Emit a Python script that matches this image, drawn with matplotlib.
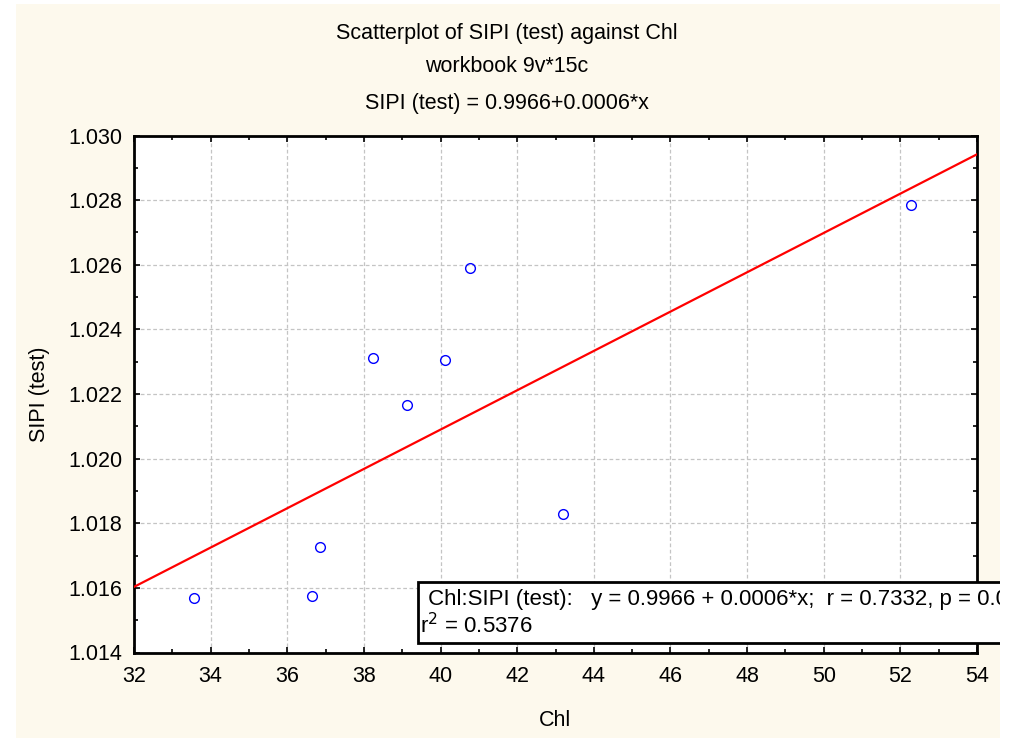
import numpy as np
import matplotlib
matplotlib.use("Agg")
import matplotlib.pyplot as plt
from matplotlib.patches import Rectangle
from matplotlib.ticker import MultipleLocator, FormatStrFormatter

# ---- data ----
chl = [33.57, 36.65, 36.86, 38.24, 39.12, 40.11, 40.77, 43.19, 52.28]
sipi = [1.01570, 1.01576, 1.01726, 1.02310, 1.02167, 1.02304, 1.02589, 1.01830, 1.02785]
x_ticks = [32, 34, 36, 38, 40, 42, 44, 46, 48, 50, 52, 54]
y_ticks = [1.014, 1.016, 1.018, 1.020, 1.022, 1.024, 1.026, 1.028, 1.030]
title_lines = ["Scatterplot of SIPI (test) against Chl", "workbook 9v*15c",
               "SIPI (test) = 0.9966+0.0006*x"]
legend_line1 = " Chl:SIPI (test):   y = 0.9966 + 0.0006*x;  r = 0.7332, p = 0.0246;"
legend_line2 = "r$^2$ = 0.5376"

plt.rcParams['font.family'] = ['Liberation Sans', 'DejaVu Sans']
W, H = 1016, 738
fig = plt.figure(figsize=(W / 100, H / 100), dpi=100)
fig.patch.set_facecolor('white')
cream = '#FDF9ED'
fig.patches.append(Rectangle((16 / W, 0), (1000 - 16) / W, 1 - 4 / H,
                             transform=fig.transFigure, facecolor=cream,
                             edgecolor='none', zorder=-10))

left, right, top, bottom = 134, 977, 135.5, 652.5
ax = fig.add_axes([left / W, 1 - bottom / H, (right - left) / W, (bottom - top) / H])
ax.set_facecolor('white')
ax.set_xlim(32, 54)
ax.set_ylim(1.014, 1.030)
ax.set_xticks(x_ticks)
ax.set_yticks(y_ticks)
ax.xaxis.set_minor_locator(MultipleLocator(1))
ax.yaxis.set_minor_locator(MultipleLocator(0.001))
ax.yaxis.set_major_formatter(FormatStrFormatter('%.3f'))
ax.tick_params(which='both', direction='in', top=True, right=True, labelsize=15.5,
               width=1.2, colors='black')
ax.tick_params(which='major', length=4)
ax.tick_params(axis='x', which='major', pad=10)
ax.tick_params(axis='y', which='major', pad=8.5)
ax.tick_params(which='minor', length=3)
ax.grid(True, which='major', color='#C4C4C4', linestyle=(0, (3, 2)), linewidth=0.9)
ax.set_axisbelow(True)
for s in ax.spines.values():
    s.set_linewidth(2)
    s.set_color('black')

# regression line
coef = np.polyfit(chl, sipi, 1)
xl = np.array([32, 54])
ax.plot(xl, np.polyval(coef, xl), color='#FF0000', linewidth=1.6, zorder=3)
ax.plot(chl, sipi, linestyle='none', marker='o', markersize=7, markerfacecolor='none',
        markeredgecolor='#0000FF', markeredgewidth=1.0, zorder=4)

ax.set_xlabel("Chl", fontsize=15.5, labelpad=16)
ax.set_ylabel("SIPI (test)", fontsize=15.5, labelpad=13)

# titles
for txt, yp in zip(title_lines, [33, 67, 103]):
    fig.text(507 / W, 1 - yp / H, txt, ha='center', va='center', fontsize=15.5)

# legend box (extends beyond the axes)
fig.patches.append(Rectangle((418 / W, 1 - 642.5 / H), (1010 - 418) / W, (642.5 - 581.5) / H,
                             transform=fig.transFigure, facecolor='white',
                             edgecolor='black', linewidth=2, zorder=5))
fig.text(422 / W, 1 - 599 / H, legend_line1, ha='left', va='center', fontsize=16, zorder=6)
fig.text(420 / W, 1 - 626 / H, legend_line2, ha='left', va='center', fontsize=16, zorder=6)

# white strip on the right edge
fig.patches.append(Rectangle((1000 / W, 0), 16 / W, 1, transform=fig.transFigure,
                             facecolor='white', edgecolor='none', zorder=20))

fig.savefig("out.png", dpi=100, facecolor=fig.get_facecolor())
